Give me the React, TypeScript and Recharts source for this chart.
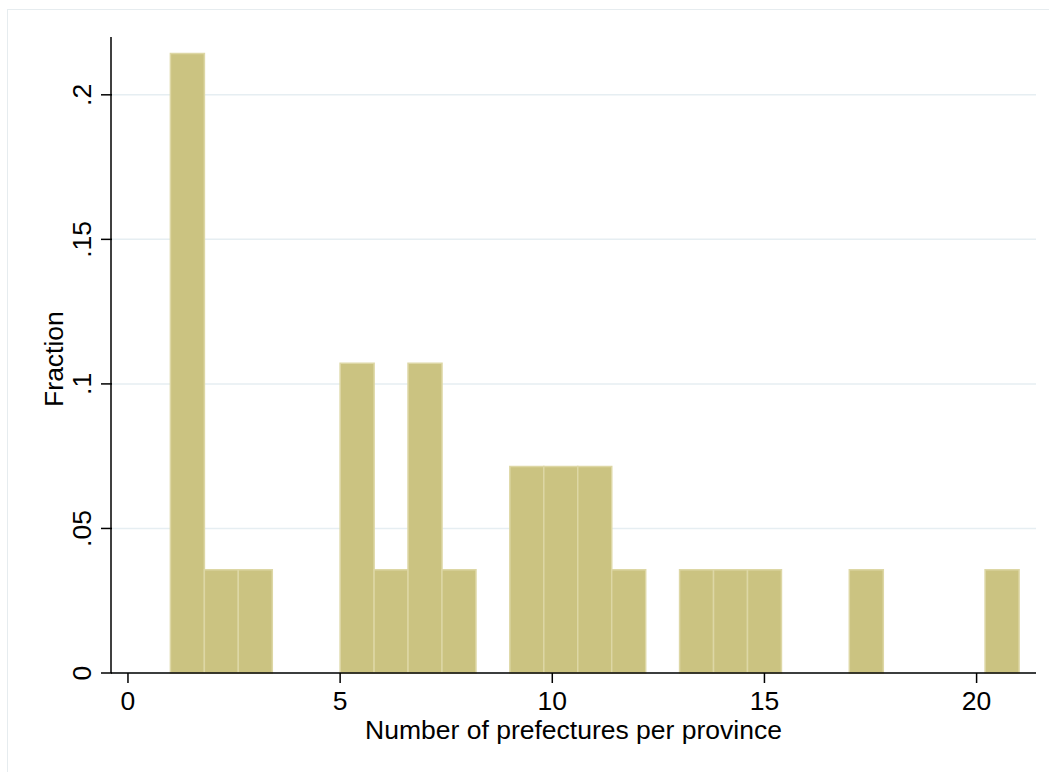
import { BarChart, Bar, XAxis, YAxis, CartesianGrid } from 'recharts';

// histogram of prefectures per province, 25 bins of width 0.8 starting at 1
const binStart = 1;
const binWidth = 0.8;
const binCounts = [6, 1, 1, 0, 0, 3, 1, 3, 1, 0, 2, 2, 2, 1, 0, 1, 1, 1, 0, 0, 1, 0, 0, 0, 1];
const totalProvinces = 28;

const xTicks = [0, 5, 10, 15, 20];
const yTicks = [0, 0.05, 0.1, 0.15, 0.2];
const yTickLabels = ['0', '.05', '.1', '.15', '.2'];

const data = binCounts.map((count, i) => ({
  mid: binStart + binWidth * (i + 0.5),
  fraction: count / totalProvinces,
}));

const FONT = '"Liberation Sans", Arial, sans-serif';
const FS = 26.5;

const XTick = (props: any) => {
  const { x, y, payload } = props;
  return (
    <g>
      <line x1={x} x2={x} y1={y - 8} y2={y + 2} stroke="#000" strokeWidth={1.5} />
      <text x={x} y={y + 29} textAnchor="middle" fontSize={FS} fontFamily={FONT} fill="#000">
        {payload.value}
      </text>
    </g>
  );
};

const YTick = (props: any) => {
  const { x, y, payload, index } = props;
  return (
    <g>
      <line x1={x - 2} x2={x + 9} y1={y} y2={y} stroke="#000" strokeWidth={1.5} />
      <text
        x={x - 12}
        y={y}
        transform={`rotate(-90, ${x - 12}, ${y})`}
        textAnchor="middle"
        fontSize={FS}
        fontFamily={FONT}
        fill="#000"
      >
        {yTickLabels[index] ?? payload.value}
      </text>
    </g>
  );
};

const XTitle = (props: any) => {
  const { viewBox } = props;
  const cx = viewBox.x + viewBox.width / 2;
  return (
    <text x={cx} y={viewBox.y + 66} textAnchor="middle" fontSize={FS} fontFamily={FONT} fill="#000">
      Number of prefectures per province
    </text>
  );
};

const YTitle = (props: any) => {
  const { viewBox } = props;
  const bx = viewBox.x + 63;
  const cy = viewBox.y + viewBox.height / 2 + 4;
  return (
    <text
      x={bx}
      y={cy}
      transform={`rotate(-90, ${bx}, ${cy})`}
      textAnchor="middle"
      fontSize={FS}
      fontFamily={FONT}
      fill="#000"
    >
      Fraction
    </text>
  );
};

export default function App() {
  return (
    <div style={{ position: 'absolute', left: 0, top: 0, width: 1049, height: 772, overflow: 'hidden', background: '#fff' }}>
      <div
        style={{
          position: 'absolute',
          left: 7,
          top: 9,
          width: 1100,
          height: 800,
          border: '1px solid #e6ecef',
        }}
      />
      <BarChart
        width={1049}
        height={772}
        data={data}
        margin={{ top: 37, right: 13, bottom: 0, left: 0 }}
        barCategoryGap={0}
        style={{ position: 'absolute', left: 0, top: 0 }}
      >
        {/* syncWithTicks keeps the grid to the tick rows only */}
        <CartesianGrid horizontal vertical={false} syncWithTicks stroke="#e6eef2" strokeWidth={1.5} />
        <XAxis
          dataKey="mid"
          type="number"
          domain={[-0.4, 21.4]}
          ticks={xTicks}
          interval={0}
          height={99}
          axisLine={{ stroke: '#000', strokeWidth: 1.5 }}
          tickLine={false}
          tick={<XTick />}
          label={<XTitle />}
        />
        <YAxis
          type="number"
          domain={[0, 0.22]}
          ticks={yTicks}
          interval={0}
          width={111}
          axisLine={{ stroke: '#000', strokeWidth: 1.5 }}
          tickLine={false}
          tick={<YTick />}
          label={<YTitle />}
        />
        <Bar
          dataKey="fraction"
          fill="#cbc381"
          stroke="#ddd7a5"
          strokeWidth={1.5}
          isAnimationActive={false}
        />
      </BarChart>
    </div>
  );
}
